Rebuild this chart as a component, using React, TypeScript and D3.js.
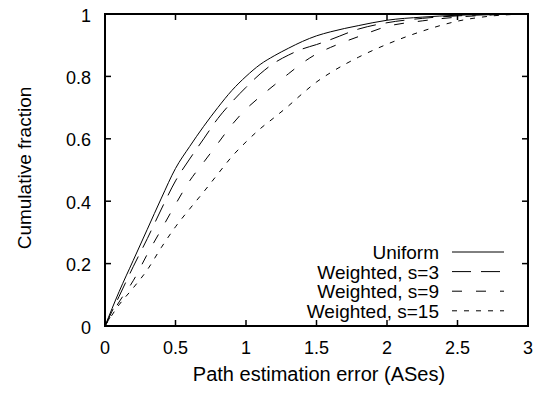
import React, { useRef, useEffect } from 'react';
import * as d3 from 'd3';

// path estimation error (ASes), sample points
const errors = [0, 0.1, 0.2, 0.3, 0.4, 0.5, 0.6, 0.7, 0.8, 0.9, 1.0, 1.1, 1.2, 1.3, 1.4, 1.5, 1.6, 1.8, 2.0, 2.25, 2.5, 2.75, 3.0];

const uniform = [0, 0.11, 0.21, 0.31, 0.41, 0.505, 0.575, 0.64, 0.70, 0.755, 0.80, 0.838, 0.866, 0.89, 0.912, 0.93, 0.943, 0.963, 0.98, 0.99, 0.996, 0.999, 1];
const weighted3 = [0, 0.095, 0.19, 0.28, 0.375, 0.465, 0.535, 0.6, 0.665, 0.718, 0.765, 0.808, 0.843, 0.868, 0.888, 0.902, 0.918, 0.952, 0.972, 0.986, 0.994, 0.998, 1];
const weighted9 = [0, 0.077, 0.145, 0.23, 0.31, 0.39, 0.465, 0.525, 0.585, 0.645, 0.695, 0.735, 0.772, 0.808, 0.843, 0.872, 0.893, 0.928, 0.96, 0.978, 0.99, 0.997, 1];
const weighted15 = [0, 0.068, 0.122, 0.18, 0.252, 0.318, 0.375, 0.43, 0.487, 0.543, 0.59, 0.632, 0.668, 0.705, 0.745, 0.782, 0.812, 0.862, 0.903, 0.945, 0.977, 0.994, 1];

const seriesNames = ['Uniform', 'Weighted, s=3', 'Weighted, s=9', 'Weighted, s=15'];
const seriesValues = [uniform, weighted3, weighted9, weighted15];
const dashes = ['none', '19,10', '10,14', '5,7'];

const xTicks = [0, 0.5, 1, 1.5, 2, 2.5, 3];
const yTicks = [0, 0.2, 0.4, 0.6, 0.8, 1];

const W = 537;
const H = 394;
const font = 'Liberation Sans, Arial, Helvetica, sans-serif';

const App = () => {
  const svgRef = useRef<SVGSVGElement>(null);

  useEffect(() => {
    const svg = d3.select(svgRef.current);
    svg.selectAll('*').remove();

    const left = 105, right = 528, top = 14, bottom = 326;
    const x = d3.scaleLinear().domain([0, 3]).range([left, right]);
    const y = d3.scaleLinear().domain([0, 1]).range([bottom, top]);
    const tick = 6;

    const g = svg.append('g');

    // ticks (mirrored on all four sides, pointing inward)
    xTicks.forEach((t) => {
      g.append('line').attr('x1', x(t)).attr('x2', x(t)).attr('y1', bottom).attr('y2', bottom - tick)
        .attr('stroke', '#000').attr('stroke-width', 1.5);
      g.append('line').attr('x1', x(t)).attr('x2', x(t)).attr('y1', top).attr('y2', top + tick)
        .attr('stroke', '#000').attr('stroke-width', 1.5);
      g.append('text').attr('x', x(t)).attr('y', bottom + 28)
        .attr('text-anchor', 'middle').style('font-family', font).style('font-size', '18px')
        .text(String(t));
    });
    yTicks.forEach((t) => {
      g.append('line').attr('x1', left).attr('x2', left + tick).attr('y1', y(t)).attr('y2', y(t))
        .attr('stroke', '#000').attr('stroke-width', 1.5);
      g.append('line').attr('x1', right).attr('x2', right - tick).attr('y1', y(t)).attr('y2', y(t))
        .attr('stroke', '#000').attr('stroke-width', 1.5);
      g.append('text').attr('x', left - 14).attr('y', y(t) + 7.5)
        .attr('text-anchor', 'end').style('font-family', font).style('font-size', '18px')
        .text(String(t));
    });

    const line = d3.line<number>()
      .x((d, i) => x(errors[i]))
      .y((d) => y(d))
      .curve(d3.curveMonotoneX);

    seriesValues.forEach((vals, i) => {
      g.append('path').attr('d', line(vals))
        .attr('fill', 'none').attr('stroke', '#000').attr('stroke-width', 1)
        .attr('stroke-dasharray', dashes[i]);
    });

    // legend
    const legX = 439, sx1 = 452, sx2 = 504;
    seriesNames.forEach((name, i) => {
      const ly = 252 + i * 19.6;
      g.append('text').attr('x', legX).attr('y', ly + 7)
        .attr('text-anchor', 'end').style('font-family', font).style('font-size', '19px')
        .text(name);
      g.append('line').attr('x1', sx1).attr('x2', sx2).attr('y1', ly).attr('y2', ly)
        .attr('stroke', '#000').attr('stroke-width', 1)
        .attr('stroke-dasharray', dashes[i]);
    });

    // frame
    g.append('rect').attr('x', left).attr('y', top).attr('width', right - left).attr('height', bottom - top)
      .attr('fill', 'none').attr('stroke', '#000').attr('stroke-width', 2);

    // axis titles
    g.append('text').attr('x', 319).attr('y', 381)
      .attr('text-anchor', 'middle').style('font-family', font).style('font-size', '20px')
      .text('Path estimation error (ASes)');
    g.append('text').attr('transform', 'translate(31, 168) rotate(-90)')
      .attr('text-anchor', 'middle').style('font-family', font).style('font-size', '19px')
      .text('Cumulative fraction');
  }, []);

  return (
    <svg ref={svgRef} width={W} height={H}
      style={{ position: 'absolute', left: 0, top: 0, background: '#fff' }} />
  );
};

export default App;
